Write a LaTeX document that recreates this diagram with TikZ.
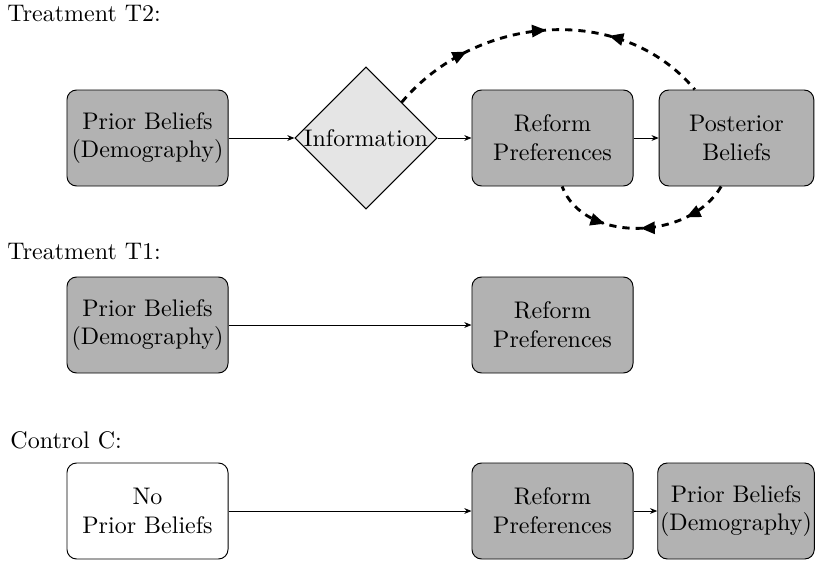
\documentclass[tikz,border=0pt]{standalone}
\usetikzlibrary{shapes.geometric,arrows.meta,decorations.markings}
\begin{document}
\begin{tikzpicture}[x=0.416667pt,y=0.416667pt,
  lbl/.style={inner sep=0pt, anchor=west},
  box/.style={draw, rounded corners=4pt, fill=black!30, minimum width=67.1pt, minimum height=40pt, align=center, inner sep=1pt},
  narrowbox/.style={box, minimum width=64.4pt},
  whitebox/.style={box, fill=white},
  infobox/.style={diamond, draw, fill=black!10, minimum width=59.2pt, minimum height=59.2pt, inner sep=0pt},
  conn/.style={-{Stealth[length=3pt,width=2.4pt]}},
  loop/.style={very thick, dash pattern=on 3pt off 2.5pt, postaction={decorate},
    decoration={markings,
      mark=at position 0.25 with {\arrow{Triangle[length=6pt,width=5pt]}},
      mark=at position 0.5 with {\arrow{Triangle[length=6pt,width=5pt]}},
      mark=at position 0.69 with {\arrowreversed{Triangle[length=6pt,width=5pt]}}}}
]
\useasboundingbox (0,0) rectangle (815,-561);

% labels
\node[lbl] (t2) at (7,-14) {Treatment T2:};
\node[lbl] (t1) at (7,-252) {Treatment T1:};
\node[lbl] (cc) at (10,-440) {Control C:};

% row 1
\node[box] (pb1) at (147.5,-138) {Prior Beliefs\\(Demography)};
\node[infobox] (info) at (366,-138) {\makebox[0pt]{Information}};
\node[box] (rf1) at (552.5,-138) {Reform\\Preferences};
\node[narrowbox] (post) at (736.5,-138) {Posterior\\Beliefs};

\draw[conn] (pb1) -- (info);
\draw[conn] (info) -- (rf1);
\draw[conn] (rf1) -- (post);

\coordinate (topend) at ([xshift=15pt]post.north west);
\coordinate (botstart) at ([xshift=26pt]post.south west);
\coordinate (botend) at ([xshift=4pt]rf1.south);
\draw[loop] (info.north east) to[out=50,in=130] (topend);
\draw[loop] (botstart) to[out=240,in=291] (botend);

% row 2
\node[box] (pb2) at (147.5,-325) {Prior Beliefs\\(Demography)};
\node[box] (rf2) at (552.5,-325) {Reform\\Preferences};
\draw[conn] (pb2) -- (rf2);

% row 3
\node[whitebox] (np) at (147.5,-511) {No\\Prior Beliefs};
\node[box] (rf3) at (552.5,-511) {Reform\\Preferences};
\node[narrowbox] (pb3) at (736,-511) {Prior Beliefs\\(Demography)};
\draw[conn] (np) -- (rf3);
\draw[conn] (rf3) -- (pb3);
\end{tikzpicture}
\end{document}
